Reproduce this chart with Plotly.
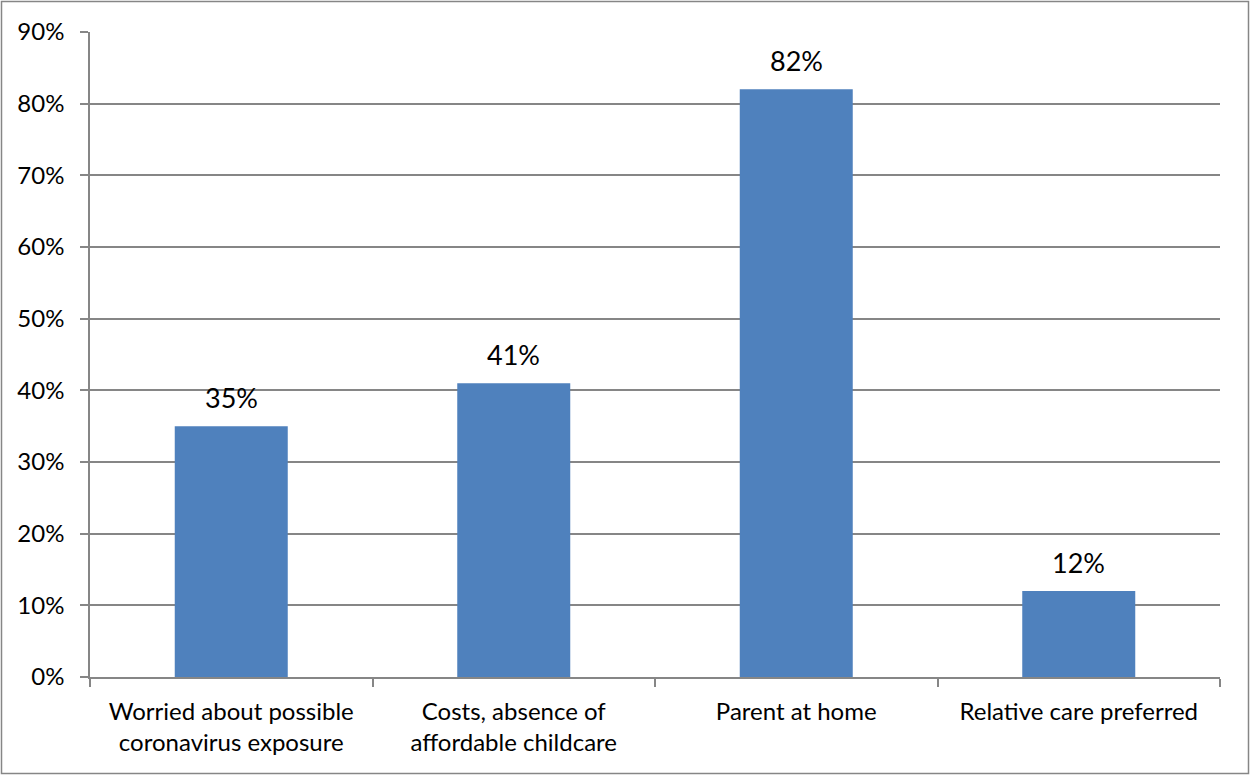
import plotly.graph_objects as go

categories = ["Worried about possible<br>coronavirus exposure",
              "Costs, absence of<br>affordable childcare",
              "Parent at home",
              "Relative care preferred"]
values = [0.35, 0.41, 0.82, 0.12]
value_labels = ["35%", "41%", "82%", "12%"]

W, H = 1250, 775
L, R, T, B = 90, 30, 32, 98
pw, ph = W - L - R, H - T - B

FONT = "Lato, Calibri, Carlito, sans-serif"

fig = go.Figure(go.Bar(
    x=categories, y=values,
    marker=dict(color="#4F81BD", line=dict(width=0)),
    hoverinfo="skip"))

for c, v, t in zip(categories, values, value_labels):
    fig.add_annotation(x=c, y=v, text=t, showarrow=False, yanchor="bottom",
                       yshift=10, font=dict(size=27, color="#000000", family=FONT))

fig.update_layout(
    width=W, height=H,
    margin=dict(l=L, r=R, t=T, b=B, pad=0),
    paper_bgcolor="white", plot_bgcolor="white",
    bargap=0.6, showlegend=False,
    font=dict(family=FONT, size=24, color="#000000"),
)
fig.update_xaxes(
    type="category", showline=True, linecolor="#868686", linewidth=1.5,
    ticks="outside", tickson="boundaries", ticklen=8, tickcolor="#868686", tickwidth=1.5,
    showgrid=False, tickfont=dict(size=24), ticklabelstandoff=12)
fig.update_yaxes(
    range=[0, 0.9], dtick=0.1, tickformat=".0%",
    showline=True, linecolor="#868686", linewidth=1.5,
    ticks="outside", ticklen=8, tickcolor="#868686", tickwidth=1.5,
    showgrid=True, gridcolor="#868686", gridwidth=1.5, zeroline=False,
    tickfont=dict(size=24), ticklabelstandoff=11)

# outer chart border
fig.add_shape(type="rect", xref="paper", yref="paper",
              x0=(1.5 - L) / pw, x1=(1248.5 - L) / pw,
              y0=(H - B - 773.5) / ph, y1=(H - B - 1.5) / ph,
              line=dict(color="#868686", width=1.5), fillcolor="rgba(0,0,0,0)", layer="below")

fig.write_html("out.html", config={"displayModeBar": False},
               post_script="document.body.style.margin='0';")
